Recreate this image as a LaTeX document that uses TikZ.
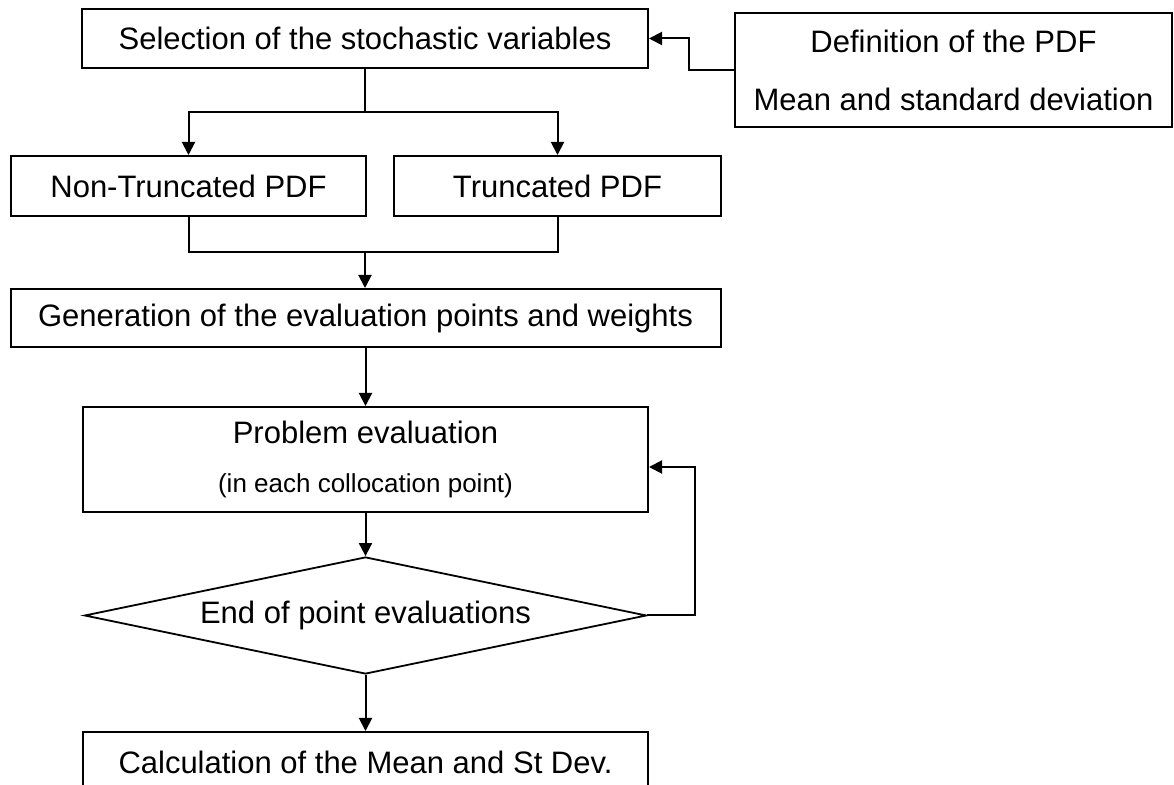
\documentclass[tikz,border=0pt]{standalone}
\usepackage{fontspec}
\setmainfont{Liberation Sans}
\usetikzlibrary{arrows.meta,shapes.geometric}
\begin{document}
\begin{tikzpicture}[x=0.5pt,y=-0.5pt,
  box/.style={draw, line width=1pt, rectangle, inner sep=0pt, align=center,
    font=\fontsize{15.5}{18}\selectfont},
  decision/.style={draw, line width=0.9pt, diamond, inner sep=0pt, aspect=4.8,
    font=\fontsize{15.5}{18}\selectfont},
  ln/.style={line width=1pt},
  arr/.style={line width=1pt, -{Triangle[length=6.5pt,width=6.5pt]}}]
\useasboundingbox (0,0) rectangle (1174,785);
\node[box, minimum width=283pt, minimum height=29.5pt] (sel) at (365,38.5) {Selection of the stochastic variables};
\node[box, minimum width=218.5pt, minimum height=57pt, font=\fontsize{15.5}{29}\selectfont] (def) at (953.5,70) {Definition of the PDF\\Mean and standard deviation};
\node[box, minimum width=177.5pt, minimum height=30pt] (nt) at (188.5,186) {Non-Truncated PDF};
\node[box, minimum width=163.5pt, minimum height=30pt] (tr) at (557.5,186) {Truncated PDF};
\node[box, minimum width=355pt, minimum height=29pt] (gen) at (365.5,318) {Generation of the evaluation points and weights};
\node[box, minimum width=282.5pt, minimum height=52.5pt] (prob) at (365.5,459.5) {Problem evaluation\\[6.5pt]{\fontsize{13}{15}\selectfont (in each collocation point)}};
\node[decision, minimum width=281pt, minimum height=58.5pt] (dia) at (365.5,615.5) {End of point evaluations};
\node[box, minimum width=282.5pt, minimum height=30pt] (calc) at (365.5,762) {Calculation of the Mean and St Dev.};

\coordinate (split) at (365,112);
\coordinate (join) at (365,252);
\draw[ln] (sel.south) -- (split);
\draw[arr] (split) -| (nt.north);
\draw[arr] (split) -| (tr.north);
\draw[ln] (nt.south) |- (join);
\draw[ln] (tr.south) |- (join);
\draw[arr] (join) -- (join |- gen.north);
\draw[arr] (gen.south) -- (gen.south |- prob.north);
\draw[arr] (prob.south) -- (dia.north);
\draw[arr] (dia.south) -- (dia.south |- calc.north);
\draw[arr] (dia.east) -- ++(48,0) |- ([yshift=-3.75pt]prob.east);
\draw[arr] (def.west) -- ++(-45,0) |- (sel.east);
\end{tikzpicture}
\end{document}
